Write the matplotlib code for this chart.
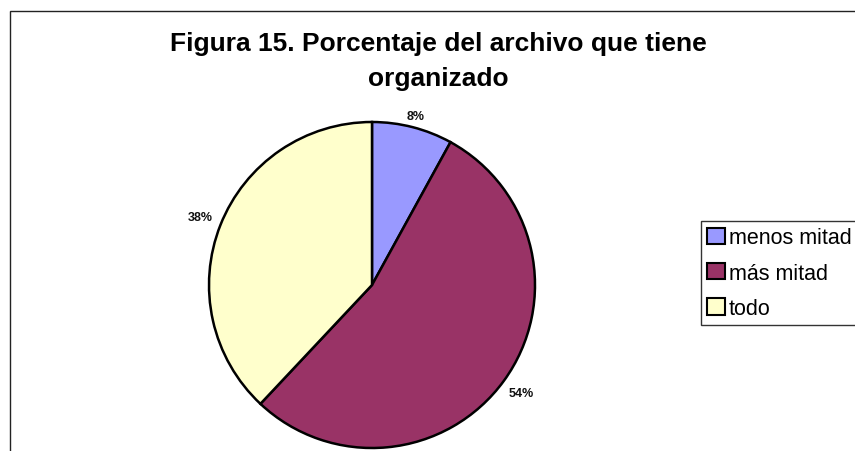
import matplotlib
matplotlib.use("Agg")
import matplotlib.pyplot as plt
import numpy as np
from matplotlib.patches import Rectangle

plt.rcParams['font.family'] = ['Liberation Sans', 'DejaVu Sans']

# Data
categories = ["menos mitad", "más mitad", "todo"]
values = [8, 54, 38]
colors = ["#9999FF", "#993366", "#FFFFCC"]
title = "Figura 15. Porcentaje del archivo que tiene\norganizado"

# radial distance of each percentage label (in radii) - styling only
label_dist = [1.07, 1.13, 1.135]

W, H = 855, 452
fig = plt.figure(figsize=(W / 100, H / 100), dpi=100)
fig.patch.set_facecolor("white")

# outer chart frame (left + top visible, rest cropped)
fig.add_artist(Rectangle((9.5 / W, -0.1), 1.2, (H - 11.5) / H + 0.1,
                         transform=fig.transFigure, fill=False,
                         edgecolor="#222222", lw=1.0))

cx, cy, r = 372, 286, 163
ax = fig.add_axes([(cx - r) / W, (H - cy - r) / H, 2 * r / W, 2 * r / H])
wedges, texts, autotexts = ax.pie(
    values, colors=colors, startangle=90, counterclock=False,
    autopct=lambda p: f"{p:.0f}%", pctdistance=1.1,
    wedgeprops=dict(edgecolor="black", linewidth=1.8),
    textprops=dict(fontsize=9, fontweight="bold", color="#111111"))
for w, t, d in zip(wedges, autotexts, label_dist):
    a = np.radians((w.theta1 + w.theta2) / 2)
    t.set_position((d * np.cos(a), d * np.sin(a)))
    t.set_ha("center"); t.set_va("center")
ax.set_xlim(-1, 1)
ax.set_ylim(-1, 1)
ax.set_aspect("equal")
ax.axis("off")

fig.text(438 / W, 1 - 51 / H, title.split("\n")[0], ha="center",
         va="baseline", fontsize=19, fontweight="bold")
fig.text(438 / W, 1 - 86 / H, title.split("\n")[1], ha="center",
         va="baseline", fontsize=19, fontweight="bold")

leg = fig.legend(wedges, categories, loc="upper left",
                 bbox_to_anchor=(701 / W, 1 - 222 / H),
                 fontsize=15.5, frameon=True, fancybox=False,
                 handlelength=0.8, handleheight=0.8, handletextpad=0.2,
                 labelspacing=0.66, borderpad=0.3, borderaxespad=0)
leg.get_frame().set_edgecolor("black")
leg.get_frame().set_linewidth(1.0)
for h in leg.legend_handles:
    h.set_linewidth(1.5)

fig.savefig("out.png", dpi=100)
